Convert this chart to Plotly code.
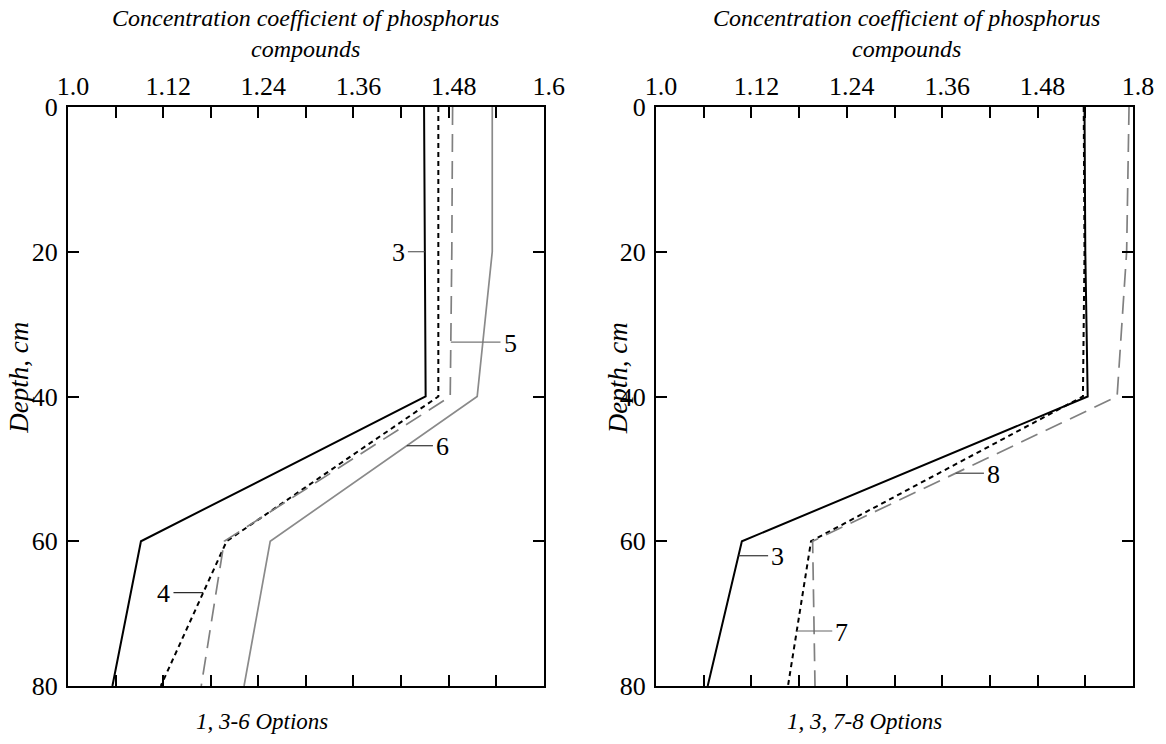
import numpy as np
import plotly.graph_objects as go

# Depth of the sampling points, cm
depth = [0, 20, 40, 60, 80]

# Left panel: options 3-6 (concentration coefficient)
left_3 = [1.449, 1.450, 1.451, 1.092, 1.056]
left_4 = [1.467, 1.467, 1.467, 1.200, 1.117]
left_5 = [1.485, 1.484, 1.482, 1.197, 1.168]
left_6 = [1.535, 1.535, 1.516, 1.255, 1.222]

# Right panel: options 3, 7-8
right_3 = [1.539, 1.540, 1.543, 1.108, 1.065]
right_7 = [1.538, 1.539, 1.537, 1.195, 1.166]
right_8 = [1.595, 1.592, 1.580, 1.197, 1.200]

# Axis ticks
x_tick_values = [1.0, 1.12, 1.24, 1.36, 1.48, 1.6]
x_tick_labels_left = ["1.0", "1.12", "1.24", "1.36", "1.48", "1.6"]
x_tick_labels_right = ["1.0", "1.12", "1.24", "1.36", "1.48", "1.8"]
depth_ticks = [0, 20, 40, 60, 80]

# Curve labels: text, depth of the leader, free end of the leader (x value)
left_label_text = ["3", "4", "5", "6"]
left_label_depth = [20, 67.1, 32.5, 46.8]
left_label_end = [1.4286, 1.133, 1.5454, 1.4602]

right_label_text = ["3", "7", "8"]
right_label_depth = [62.0, 72.4, 50.6]
right_label_end = [1.141, 1.2217, 1.4125]

SERIF = "Liberation Serif"
BLACK = "#000000"
GREY = "#808080"

STYLE = {
    "solid_black": dict(color=BLACK, width=2.0),
    "dot_black": dict(color=BLACK, width=2.0, dash="5px,4px"),
    "dash_grey": dict(color=GREY, width=1.7, dash="18px,9px"),
    "solid_grey": dict(color="#8a8a8a", width=1.7),
}

fig = go.Figure()

left_series = [(left_3, "solid_black"), (left_4, "dot_black"),
               (left_5, "dash_grey"), (left_6, "solid_grey")]
right_series = [(right_3, "solid_black"), (right_7, "dot_black"),
                (right_8, "dash_grey")]

for values, style in left_series:
    fig.add_trace(go.Scatter(x=values, y=depth, mode="lines", line=STYLE[style],
                             xaxis="x", yaxis="y", showlegend=False, hoverinfo="skip"))
for values, style in right_series:
    fig.add_trace(go.Scatter(x=values, y=depth, mode="lines", line=STYLE[style],
                             xaxis="x2", yaxis="y2", showlegend=False, hoverinfo="skip"))


def add_labels(texts, depths, ends, series, xref, yref, leader_colors):
    for text, d, end, (values, _), lc in zip(texts, depths, ends, series, leader_colors):
        on_curve = float(np.interp(d, depth, values))
        fig.add_shape(type="line", xref=xref, yref=yref, x0=on_curve, x1=end,
                      y0=d, y1=d, line=dict(color=lc, width=1.2))
        right_side = end > on_curve
        fig.add_annotation(x=end, y=d, xref=xref, yref=yref, text=text,
                           showarrow=False, xanchor="left" if right_side else "right",
                           xshift=1 if right_side else -1, yshift=-1,
                           font=dict(family=SERIF, size=26, color=BLACK))


add_labels(left_label_text, left_label_depth, left_label_end, left_series,
           "x", "y", ["#444444", "#222222", "#777777", "#333333"])
add_labels(right_label_text, right_label_depth, right_label_end, right_series,
           "x2", "y2", ["#333333", "#666666", "#444444"])

# Ticks every 0.06, labelled every 0.12
all_x_ticks = [round(1.0 + 0.06 * k, 2) for k in range(11)]


def tick_text(labels):
    lookup = {round(v, 2): t for v, t in zip(x_tick_values, labels)}
    return [lookup.get(v, "") for v in all_x_ticks]


def x_axis(domain, labels, anchor):
    return dict(domain=domain, anchor=anchor, side="top", range=[1.0, 1.6],
                tickvals=all_x_ticks, ticktext=tick_text(labels),
                ticks="inside", ticklen=11, tickwidth=1.5, tickcolor=BLACK,
                showline=True, linecolor=BLACK, linewidth=2, mirror="ticks",
                showgrid=False, zeroline=False, ticklabelshift=5,
                tickfont=dict(family=SERIF, size=26, color=BLACK))


def y_axis(anchor):
    return dict(domain=[0, 1], anchor=anchor, range=[80, 0],
                tickvals=depth_ticks, ticktext=[str(v) for v in depth_ticks],
                ticks="inside", ticklen=11, tickwidth=1.5, tickcolor=BLACK,
                showline=True, linecolor=BLACK, linewidth=2, mirror="ticks",
                showgrid=False, zeroline=False, ticklabelstandoff=3,
                tickfont=dict(family=SERIF, size=26, color=BLACK))


W, H = 1166, 744
ML, MR, MT, MB = 68, 18, 107, 58
PW, PH = W - ML - MR, H - MT - MB


def px(xp):
    return (xp - ML) / PW


def py(yp):
    return (H - MB - yp) / PH


fig.update_layout(
    width=W, height=H,
    margin=dict(l=ML, r=MR, t=MT, b=MB),
    paper_bgcolor="white", plot_bgcolor="white",
    xaxis=x_axis([0, px(550.5)], x_tick_labels_left, "y"),
    yaxis=y_axis("x"),
    xaxis2=x_axis([px(664.3), 1], x_tick_labels_right, "y2"),
    yaxis2=y_axis("x2"),
)

title_font = dict(family=SERIF, size=24, color=BLACK, style="italic")
title_text = "Concentration coefficient of phosphorus<br>compounds"
for cx, cap, capx in [(309, "1, 3-6 Options", 265), (918, "1, 3, 7-8 Options", 876)]:
    fig.add_annotation(xref="paper", yref="paper", x=px(cx), y=py(33), text=title_text,
                       showarrow=False, xanchor="center", yanchor="middle", font=title_font)
    fig.add_annotation(xref="paper", yref="paper", x=px(capx), y=py(721), text=cap,
                       showarrow=False, xanchor="center", yanchor="middle",
                       font=dict(family=SERIF, size=23, color=BLACK, style="italic"))

for cx in [18, 626]:
    fig.add_annotation(xref="paper", yref="paper", x=px(cx), y=py(378), text="Depth, cm",
                       textangle=-90, showarrow=False, xanchor="center", yanchor="middle",
                       font=dict(family=SERIF, size=27, color=BLACK, style="italic"))

fig.write_html("out.html")
